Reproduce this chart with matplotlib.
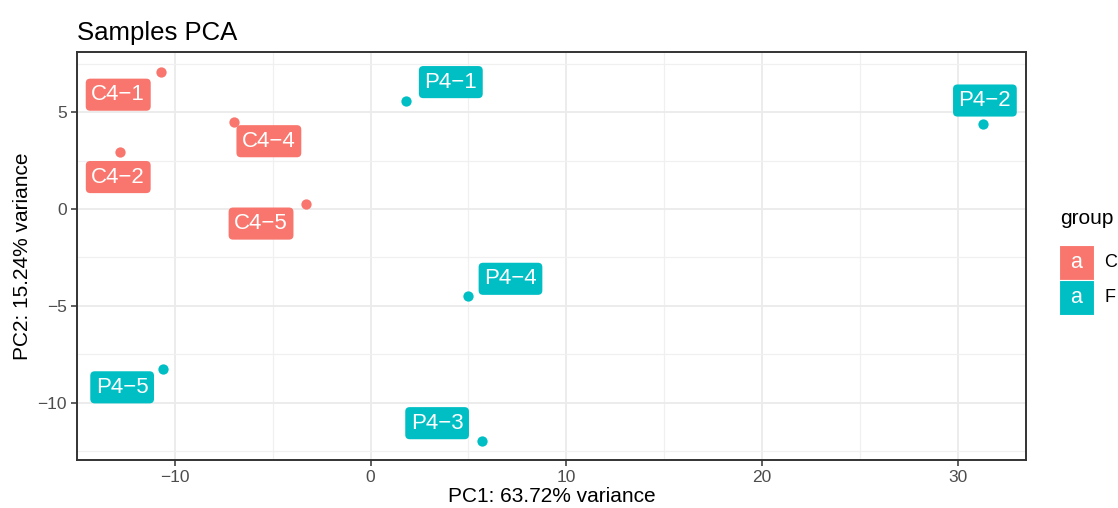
import matplotlib
matplotlib.use("Agg")
import matplotlib.pyplot as plt
from matplotlib.patches import Rectangle
from matplotlib.ticker import MultipleLocator

plt.rcParams["font.family"] = ["Liberation Sans", "DejaVu Sans"]

samples = ["C4−1", "C4−4", "C4−2", "C4−5", "P4−1", "P4−2", "P4−4", "P4−5", "P4−3"]
groups = ["C", "C", "C", "C", "F", "F", "F", "F", "F"]
pc1 = [-10.7, -7.0, -12.8, -3.3, 1.8, 31.3, 5.0, -10.6, 5.7]
pc2 = [7.05, 4.5, 2.95, 0.25, 5.55, 4.4, -4.5, -8.25, -11.95]
# label positions after repel
lab_x = [-12.9, -5.2, -12.9, -5.6, 4.1, 31.4, 7.15, -12.7, 3.4]
lab_y = [5.9, 3.5, 1.65, -0.75, 6.55, 5.6, -3.6, -9.2, -11.05]

group_colors = {"C": "#F8766D", "F": "#00BFC4"}

fig = plt.figure(figsize=(11.18, 5.08), dpi=100)
ax = fig.add_axes([0.069, 0.0945, 0.8487, 0.803])

# theme_bw look
ax.set_facecolor("white")
ax.set_xlim(-15.0, 33.5)
ax.set_ylim(-12.95, 8.1)
ax.xaxis.set_major_locator(MultipleLocator(10))
ax.xaxis.set_minor_locator(MultipleLocator(5))
ax.yaxis.set_major_locator(MultipleLocator(5))
ax.yaxis.set_minor_locator(MultipleLocator(2.5))
ax.grid(which="major", color="#EBEBEB", linewidth=1.3)
ax.grid(which="minor", color="#F0F0F0", linewidth=0.9)
ax.set_axisbelow(True)
for sp in ax.spines.values():
    sp.set_color("#333333")
    sp.set_linewidth(1.4)
ax.tick_params(which="major", length=4, width=1.1, color="#333333",
               labelsize=12.5, labelcolor="#4D4D4D")
ax.tick_params(which="minor", length=0)

for name, g, x, y, lx, ly in zip(samples, groups, pc1, pc2, lab_x, lab_y):
    c = group_colors[g]
    ax.scatter(x, y, s=55, color=c, zorder=3, linewidths=0)
    ax.text(lx, ly, name, ha="center", va="center", color="white", fontsize=16,
            zorder=4,
            bbox=dict(boxstyle="round,pad=0.25,rounding_size=0.2", fc=c, ec="none"))

ax.set_xlabel("PC1: 63.72% variance", fontsize=15, labelpad=1)
ax.set_ylabel("PC2: 15.24% variance", fontsize=15, labelpad=4)
ax.set_title("Samples PCA", fontsize=18.5, loc="left", pad=9)

# legend drawn by hand
fig.text(1060 / 1118, 1 - 218 / 508, "group", fontsize=15, ha="left", va="center")
key_w, key_h = 35 / 1118, 35 / 508
for i, g in enumerate(["C", "F"]):
    top = 1 - (245 + 35 * i) / 508
    fig.patches.append(Rectangle((1059 / 1118, top - key_h), key_w, key_h,
                                 transform=fig.transFigure, fc=group_colors[g], ec="white",
                                 lw=0.8))
    fig.text(1059 / 1118 + key_w / 2, top - key_h / 2, "a", color="white",
             fontsize=15.5, ha="center", va="center")
    fig.text(1104 / 1118, top - key_h / 2, g, fontsize=13, ha="left", va="center")

fig.savefig("out.png", dpi=100, facecolor="white")
